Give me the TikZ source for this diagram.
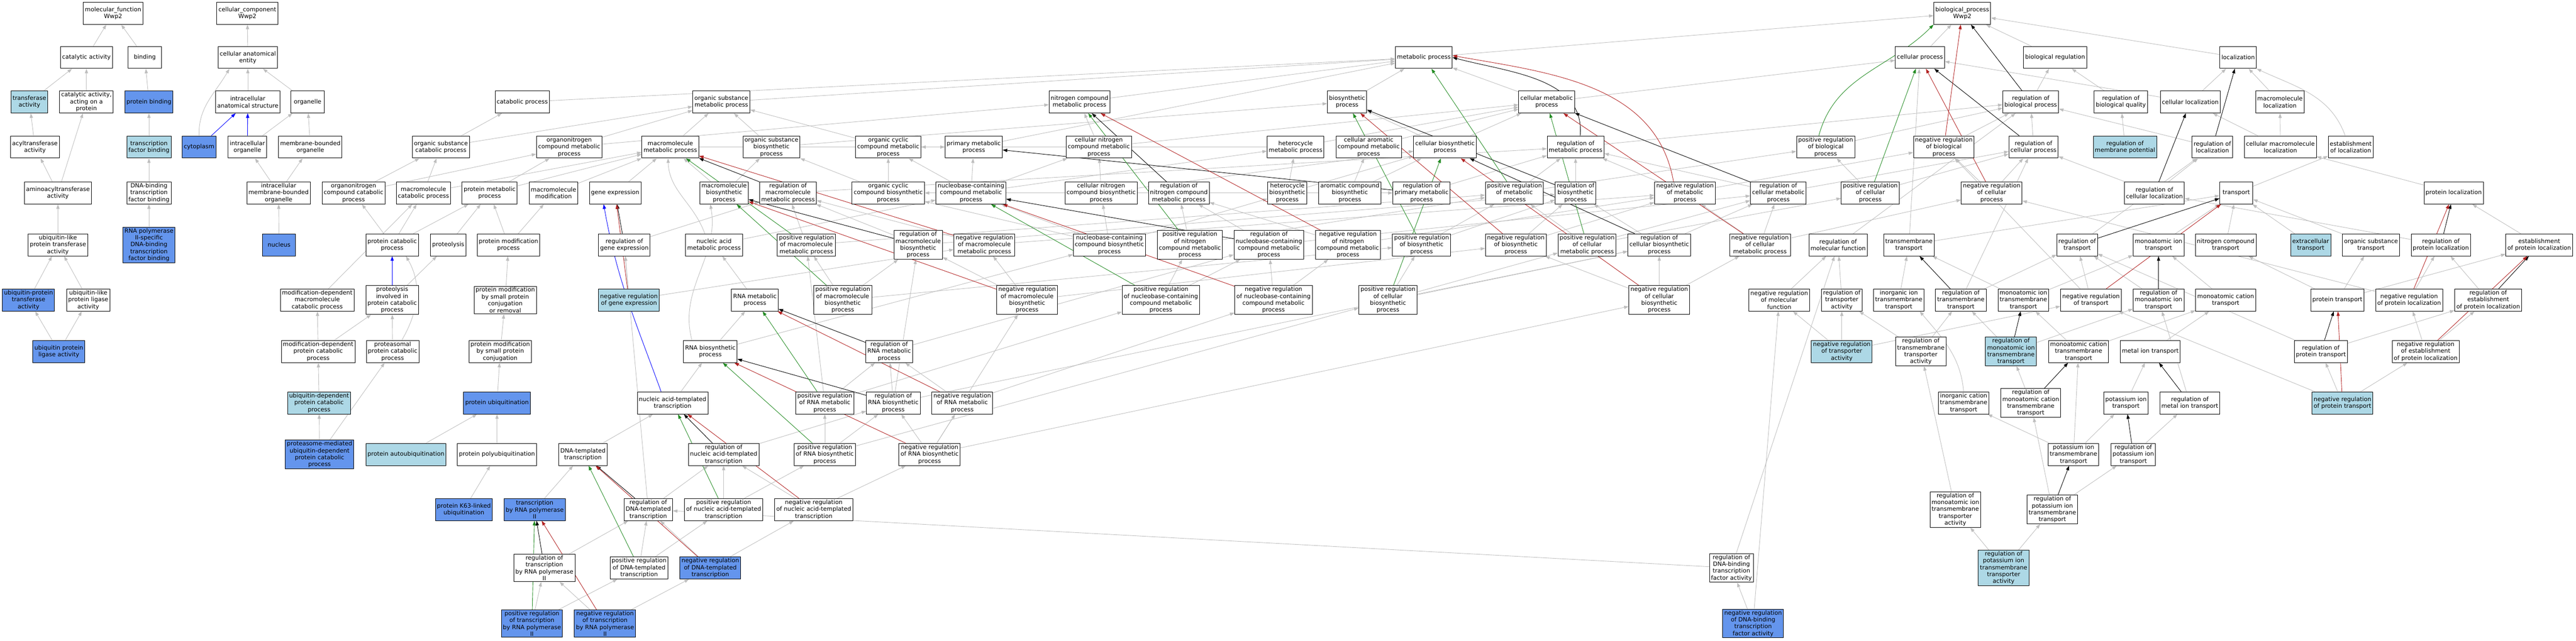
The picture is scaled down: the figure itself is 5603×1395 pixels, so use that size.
\documentclass[tikz,border=0pt]{standalone}
\usepackage{fontspec}
\setmainfont{DejaVu Sans}
\usetikzlibrary{arrows.meta,backgrounds}
\definecolor{edgegray}{HTML}{BEBEBE}
\definecolor{cfblue}{HTML}{6495ED}
\definecolor{lblue}{HTML}{ADD8E6}
\definecolor{fred}{HTML}{B22222}
\definecolor{fgreen}{HTML}{228B22}
\begin{document}
\begin{tikzpicture}[x=1pt,y=-1pt,
  box/.style={draw=black,line width=1.1pt,fill=white,align=center,
    font=\fontsize{12.8}{15}\selectfont,inner xsep=3.5pt,inner ysep=2.5pt,
    minimum width=72pt,minimum height=48pt},
  blu/.style={fill=cfblue},
  lbl/.style={fill=lblue},
  tipA/.style={-{Triangle[length=10pt,width=7pt]}},
  egray/.style={draw=edgegray,line width=1pt,tipA,color=edgegray},
  eblack/.style={draw=black,line width=1pt,tipA},
  ered/.style={draw=fred,line width=1pt,tipA,color=fred},
  egreen/.style={draw=fgreen,line width=1pt,tipA,color=fgreen},
  eblue/.style={draw=blue,line width=1pt,tipA,color=blue}]
\useasboundingbox (0,0) rectangle (5603,1395);
% ---------- molecular function ----------
\node[box] (mf) at (246,29) {molecular\_function\\Wwp2};
\node[box] (catact) at (188,125) {catalytic activity};
\node[box] (binding) at (315,125) {binding};
\node[box,lbl] (transf) at (64,222) {transferase\\activity};
\node[box] (catprot) at (188,222) {catalytic activity,\\acting on a\\protein};
\node[box,blu] (protbind) at (324,222) {protein binding};
\node[box] (acyl) at (76,320) {acyltransferase\\activity};
\node[box,lbl] (tfb) at (324,320) {transcription\\factor binding};
\node[box] (aminoacyl) at (126,420) {aminoacyltransferase\\activity};
\node[box] (dnatfb) at (324,420) {DNA-binding\\transcription\\factor binding};
\node[box] (ulpta) at (126,533) {ubiquitin-like\\protein transferase\\activity};
\node[box,blu] (rnap2tfb) at (324,533) {RNA polymerase\\II-specific\\DNA-binding\\transcription\\factor binding};
\node[box,blu] (upta) at (62,653) {ubiquitin-protein\\transferase\\activity};
\node[box] (ulpla) at (192,653) {ubiquitin-like\\protein ligase\\activity};
\node[box,blu] (upla) at (128,765) {ubiquitin protein\\ligase activity};
% ---------- cellular component ----------
\node[box] (cc) at (538,29) {cellular\_component\\Wwp2};
\node[box] (cae) at (539,125) {cellular anatomical\\entity};
\node[box] (ias) at (539,222) {intracellular\\anatomical structure};
\node[box] (organelle) at (669,222) {organelle};
\node[box,blu] (cyto) at (433,320) {cytoplasm};
\node[box] (io) at (538,320) {intracellular\\organelle};
\node[box] (mbo) at (675,320) {membrane-bounded\\organelle};
\node[box] (imbo) at (606,420) {intracellular\\membrane-bounded\\organelle};
\node[box,blu] (nucleus) at (607,533) {nucleus};
% ---------- biological process: rank 0-2 ----------
\node[box] (bp) at (4268,29) {biological\_process\\Wwp2};
\node[box] (metab) at (3097,125) {metabolic process};
\node[box] (cp) at (4176,125) {cellular process};
\node[box] (breg) at (4470,125) {biological regulation};
\node[box] (loc) at (4868,125) {localization};
\node[box] (catab) at (1136,222) {catabolic process};
\node[box] (osmp) at (1569,222) {organic substance\\metabolic process};
\node[box] (ncmp) at (2348,222) {nitrogen compound\\metabolic process};
\node[box] (biosyn) at (2930,222) {biosynthetic\\process};
\node[box] (cmp) at (3364,222) {cellular metabolic\\process};
\node[box] (rbiop) at (4417,222) {regulation of\\biological process};
\node[box] (rbq) at (4613,222) {regulation of\\biological quality};
\node[box] (cloc) at (4764,222) {cellular localization};
\node[box] (mloc) at (4959,222) {macromolecule\\localization};
% ---------- rank 3 ----------
\node[box] (oscat) at (959,320) {organic substance\\catabolic process};
\node[box] (oncmp) at (1238,320) {organonitrogen\\compound metabolic\\process};
\node[box] (mmp) at (1458,320) {macromolecule\\metabolic process};
\node[box] (osbp) at (1678,320) {organic substance\\biosynthetic\\process};
\node[box] (occmp) at (1932,320) {organic cyclic\\compound metabolic\\process};
\node[box] (primp) at (2118,320) {primary metabolic\\process};
\node[box] (cncmp) at (2390,320) {cellular nitrogen\\compound metabolic\\process};
\node[box] (hetmp) at (2818,320) {heterocycle\\metabolic process};
\node[box] (camp) at (2977,320) {cellular aromatic\\compound metabolic\\process};
\node[box] (cbp) at (3143,320) {cellular biosynthetic\\process};
\node[box] (rmp) at (3427,320) {regulation of\\metabolic process};
\node[box] (pbp) at (3971,320) {positive regulation\\of biological\\process};
\node[box] (nbp) at (4228,320) {negative regulation\\of biological\\process};
\node[box] (rcp) at (4423,320) {regulation of\\cellular process};
\node[box,lbl] (rmpot) at (4622,320) {regulation of\\membrane potential};
\node[box] (rloc) at (4812,320) {regulation of\\localization};
\node[box] (cmloc) at (4960,320) {cellular macromolecule\\localization};
\node[box] (eloc) at (5113,320) {establishment\\of localization};
% ---------- rank 4 ----------
\node[box] (oncat) at (769,420) {organonitrogen\\compound catabolic\\process};
\node[box] (mmcat) at (921,420) {macromolecule\\catabolic process};
\node[box] (pmp) at (1065,420) {protein metabolic\\process};
\node[box] (mmod) at (1204,420) {macromolecule\\modification};
\node[box] (geneexp) at (1338,420) {gene expression};
\node[box] (mbp) at (1575,420) {macromolecule\\biosynthetic\\process};
\node[box] (rmmp) at (1714,420) {regulation of\\macromolecule\\metabolic process};
\node[box] (occbp) at (1932,420) {organic cyclic\\compound biosynthetic\\process};
\node[box] (nbcmp) at (2112,420) {nucleobase-containing\\compound metabolic\\process};
\node[box] (cncbp) at (2395,420) {cellular nitrogen\\compound biosynthetic\\process};
\node[box] (rncmp) at (2564,420) {regulation of\\nitrogen compound\\metabolic process};
\node[box] (hetbp) at (2800,420) {heterocycle\\biosynthetic\\process};
\node[box] (acbp) at (2936,420) {aromatic compound\\biosynthetic\\process};
\node[box] (rprimp) at (3092,420) {regulation of\\primary metabolic\\process};
\node[box] (prmp) at (3294,420) {positive regulation\\of metabolic\\process};
\node[box] (rbp) at (3427,420) {regulation of\\biosynthetic\\process};
\node[box] (nrmp) at (3665,420) {negative regulation\\of metabolic\\process};
\node[box] (rcmp) at (3868,420) {regulation of\\cellular metabolic\\process};
\node[box] (pcp) at (4068,420) {positive regulation\\of cellular\\process};
\node[box] (ncp) at (4332,420) {negative regulation\\of cellular\\process};
\node[box] (rcl) at (4686,420) {regulation of\\cellular localization};
\node[box] (transport) at (4864,420) {transport};
\node[box] (ploc) at (5337,420) {protein localization};
% ---------- rank 5 ----------
\node[box] (protcat) at (853,533) {protein catabolic\\process};
\node[box] (proteolysis) at (975,533) {proteolysis};
\node[box] (pmodp) at (1106,533) {protein modification\\process};
\node[box] (rge) at (1358,533) {regulation of\\gene expression};
\node[box] (nampr) at (1553,533) {nucleic acid\\metabolic process};
\node[box] (prmmp) at (1754,533) {positive regulation\\of macromolecule\\metabolic process};
\node[box] (rmbp) at (1997,533) {regulation of\\macromolecule\\biosynthetic\\process};
\node[box] (nrmmp) at (2141,533) {negative regulation\\of macromolecule\\metabolic process};
\node[box] (nbcbp) at (2413,533) {nucleobase-containing\\compound biosynthetic\\process};
\node[box] (prncmp) at (2588,533) {positive regulation\\of nitrogen\\compound metabolic\\process};
\node[box] (rnbcmp) at (2760,533) {regulation of\\nucleobase-containing\\compound metabolic\\process};
\node[box] (nrncmp) at (2932,533) {negative regulation\\of nitrogen\\compound metabolic\\process};
\node[box] (prbp) at (3092,533) {positive regulation\\of biosynthetic\\process};
\node[box] (nrbp) at (3297,533) {negative regulation\\of biosynthetic\\process};
\node[box] (prcmp) at (3452,533) {positive regulation\\of cellular\\metabolic process};
\node[box] (rcbp) at (3609,533) {regulation of\\cellular biosynthetic\\process};
\node[box] (nrcmp) at (3828,533) {negative regulation\\of cellular\\metabolic process};
\node[box] (rmf) at (3998,533) {regulation of\\molecular function};
\node[box] (tmt) at (4152,533) {transmembrane\\transport};
\node[box] (rtr) at (4518,533) {regulation of\\transport};
\node[box] (mit) at (4695,533) {monoatomic ion\\transport};
\node[box] (nct) at (4841,533) {nitrogen compound\\transport};
\node[box,lbl] (ect) at (5026,533) {extracellular\\transport};
\node[box] (ost) at (5157,533) {organic substance\\transport};
\node[box] (rploc) at (5309,533) {regulation of\\protein localization};
\node[box] (eploc) at (5523,533) {establishment\\of protein localization};
% ---------- rank 6 ----------
\node[box] (mdmcp) at (690,653) {modification-dependent\\macromolecule\\catabolic process};
\node[box] (proteolysisinv) at (853,653) {proteolysis\\involved in\\protein catabolic\\process};
\node[box] (pmsp) at (1099,653) {protein modification\\by small protein\\conjugation\\or removal};
\node[box,lbl] (nrge) at (1368,653) {negative regulation\\of gene expression};
\node[box] (rnamp) at (1642,653) {RNA metabolic\\process};
\node[box] (prmbp) at (1833,653) {positive regulation\\of macromolecule\\biosynthetic\\process};
\node[box] (nrmbp) at (2234,653) {negative regulation\\of macromolecule\\biosynthetic\\process};
\node[box] (pnbcmp) at (2525,653) {positive regulation\\of nucleobase-containing\\compound metabolic\\process};
\node[box] (nnbcmp) at (2770,653) {negative regulation\\of nucleobase-containing\\compound metabolic\\process};
\node[box] (prcbp) at (3019,653) {positive regulation\\of cellular\\biosynthetic\\process};
\node[box] (nrcbp) at (3609,653) {negative regulation\\of cellular\\biosynthetic\\process};
\node[box] (nrmf) at (3870,653) {negative regulation\\of molecular\\function};
\node[box] (rta) at (4006,653) {regulation of\\transporter\\activity};
\node[box] (iitt) at (4130,653) {inorganic ion\\transmembrane\\transport};
\node[box] (rtmt) at (4265,653) {regulation of\\transmembrane\\transport};
\node[box] (mitt) at (4401,653) {monoatomic ion\\transmembrane\\transport};
\node[box] (ntr) at (4548,653) {negative regulation\\of transport};
\node[box] (rmiont) at (4695,653) {regulation of\\monoatomic ion\\transport};
\node[box] (mct) at (4841,653) {monoatomic cation\\transport};
\node[box] (pt) at (5084,653) {protein transport};
\node[box] (nploc) at (5240,653) {negative regulation\\of protein localization};
\node[box] (reploc) at (5412,653) {regulation of\\establishment\\of protein localization};
% ---------- rank 7 ----------
\node[box] (mdpcp) at (692,765) {modification-dependent\\protein catabolic\\process};
\node[box] (ppcp) at (854,765) {proteasomal\\protein catabolic\\process};
\node[box] (pmspc) at (1088,765) {protein modification\\by small protein\\conjugation};
\node[box] (rnabp) at (1545,765) {RNA biosynthetic\\process};
\node[box] (rrnamp) at (1934,765) {regulation of\\RNA metabolic\\process};
\node[box,lbl] (nrta) at (4006,765) {negative regulation\\of transporter\\activity};
\node[box] (rtmta) at (4178,765) {regulation of\\transmembrane\\transporter\\activity};
\node[box,lbl] (rmitt) at (4374,765) {regulation of\\monoatomic ion\\transmembrane\\transport};
\node[box] (mctt) at (4521,765) {monoatomic cation\\transmembrane\\transport};
\node[box] (metalion) at (4677,765) {metal ion transport};
\node[box] (rpt) at (5048,765) {regulation of\\protein transport};
\node[box] (neploc) at (5276,765) {negative regulation\\of establishment\\of protein localization};
% ---------- rank 8 ----------
\node[box,lbl] (udpcp) at (694,877) {ubiquitin-dependent\\protein catabolic\\process};
\node[box,blu] (protubiq) at (1081,877) {protein ubiquitination};
\node[box] (natt) at (1463,877) {nucleic acid-templated\\transcription};
\node[box] (prnamp) at (1794,877) {positive regulation\\of RNA metabolic\\process};
\node[box] (rrnabp) at (1943,877) {regulation of\\RNA biosynthetic\\process};
\node[box] (nrnamp) at (2093,877) {negative regulation\\of RNA metabolic\\process};
\node[box] (ictt) at (4271,877) {inorganic cation\\transmembrane\\transport};
\node[box] (rmctt) at (4417,877) {regulation of\\monoatomic cation\\transmembrane\\transport};
\node[box] (kit) at (4624,877) {potassium ion\\transport};
\node[box] (rmit) at (4763,877) {regulation of\\metal ion transport};
\node[box,lbl] (npt) at (5095,877) {negative regulation\\of protein transport};
% ---------- rank 9 ----------
\node[box,blu] (pmudpcp) at (695,989) {proteasome-mediated\\ubiquitin-dependent\\protein catabolic\\process};
\node[box,lbl] (protautoub) at (883,989) {protein autoubiquitination};
\node[box] (protpolyub) at (1081,989) {protein polyubiquitination};
\node[box] (dtt) at (1268,989) {DNA-templated\\transcription};
\node[box] (rnatt) at (1574,989) {regulation of\\nucleic acid-templated\\transcription};
\node[box] (prnabp) at (1794,989) {positive regulation\\of RNA biosynthetic\\process};
\node[box] (nrnabp) at (2022,989) {negative regulation\\of RNA biosynthetic\\process};
\node[box] (kitt) at (4510,989) {potassium ion\\transmembrane\\transport};
\node[box] (rkit) at (4640,989) {regulation of\\potassium ion\\transport};
% ---------- rank 10 ----------
\node[box,blu] (k63) at (1009,1109) {protein K63-linked\\ubiquitination};
\node[box,blu] (tbrnap2) at (1163,1109) {transcription\\by RNA polymerase\\II};
\node[box] (rdtt) at (1410,1109) {regulation of\\DNA-templated\\transcription};
\node[box] (pnatt) at (1574,1109) {positive regulation\\of nucleic acid-templated\\transcription};
\node[box] (nnatt) at (1770,1109) {negative regulation\\of nucleic acid-templated\\transcription};
\node[box] (rmitta) at (4253,1109) {regulation of\\monoatomic ion\\transmembrane\\transporter\\activity};
\node[box] (rkitt) at (4464,1109) {regulation of\\potassium ion\\transmembrane\\transport};
% ---------- rank 11 ----------
\node[box] (rtbrnap2) at (1184,1236) {regulation of\\transcription\\by RNA polymerase\\II};
\node[box] (pdtt) at (1390,1236) {positive regulation\\of DNA-templated\\transcription};
\node[box,blu] (ndtt) at (1545,1236) {negative regulation\\of DNA-templated\\transcription};
\node[box] (rdbtfa) at (3766,1236) {regulation of\\DNA-binding\\transcription\\factor activity};
\node[box,lbl] (rkitta) at (4358,1236) {regulation of\\potassium ion\\transmembrane\\transporter\\activity};
% ---------- rank 12 ----------
\node[box,blu] (ptbrnap2) at (1157,1357) {positive regulation\\of transcription\\by RNA polymerase\\II};
\node[box,blu] (ntbrnap2) at (1316,1357) {negative regulation\\of transcription\\by RNA polymerase\\II};
\node[box,blu] (ndbtfa) at (3813,1357) {negative regulation\\of DNA-binding\\transcription\\factor activity};
% ================= edges =================
\begin{pgfonlayer}{background}
\foreach \a/\b in {catact/mf, binding/mf, transf/catact, catprot/catact, protbind/binding, acyl/transf, tfb/protbind, aminoacyl/acyl, aminoacyl/catprot, dnatfb/tfb, ulpta/aminoacyl, rnap2tfb/dnatfb, upta/ulpta, ulpla/ulpta, upla/upta, upla/ulpla,
 cae/cc, ias/cae, organelle/cae, io/organelle, mbo/organelle, imbo/io, imbo/mbo, nucleus/imbo,
 catab/metab, osmp/metab, ncmp/metab, primp/metab, biosyn/metab, cmp/metab, cmp/cp, metab/bp, cp/bp, breg/bp, loc/bp,
 oscat/catab, oscat/osmp, oncmp/osmp, oncmp/ncmp, mmp/osmp, mmp/primp, osbp/osmp, osbp/biosyn, occmp/osmp, cncmp/ncmp, cncmp/cmp, hetmp/occmp, hetmp/cmp, camp/cmp, cbp/biosyn, cbp/cmp,
 rbiop/breg, rbq/breg, cloc/loc, cloc/cp, mloc/loc,
 oncat/oscat, oncat/oncmp, mmcat/oscat, mmcat/mmp, pmp/oncmp, pmp/mmp, mmod/mmp, geneexp/mmp, mbp/mmp, mbp/osbp, occbp/occmp, occbp/osbp, nbcmp/occmp, nbcmp/primp, nbcmp/cncmp, nbcmp/hetmp, cncbp/cncmp, cncbp/cbp, hetbp/hetmp, hetbp/occbp, hetbp/cbp, acbp/camp, acbp/cbp,
 nbcbp/nbcmp, nbcbp/cncbp, nbcbp/hetbp, nbcbp/occbp,
 protcat/oncat, protcat/mmcat, protcat/pmp, proteolysis/pmp, proteolysisinv/proteolysis, pmodp/pmp, pmodp/mmod, nampr/nbcmp, rnamp/nampr, rnabp/rnamp, rnabp/nbcbp, natt/rnabp, dtt/natt, tbrnap2/dtt,
 mdmcp/mmcat, mdpcp/mdmcp, mdpcp/proteolysisinv, ppcp/proteolysisinv, udpcp/mdpcp, pmudpcp/udpcp, pmudpcp/ppcp, pmsp/pmodp, pmspc/pmsp, protubiq/pmspc, protautoub/protubiq, protpolyub/protubiq, k63/protpolyub,
 rmp/rbiop, rcp/rbiop, pbp/rbiop, nbp/rbiop, rmmp/rmp, rprimp/rmp, rbp/rmp, prmp/rmp, prmp/pbp, nrmp/rmp, nrmp/nbp, rcmp/rmp, rcmp/rcp, pcp/rcp, pcp/pbp, ncp/rcp, ncp/nbp, rncmp/rprimp, rge/rmmp, rmbp/rmmp, rmbp/rbp, prmmp/rmmp, prmmp/prmp, nrmmp/rmmp, nrmmp/nrmp, rnbcmp/rncmp, rnbcmp/rcmp, prncmp/rncmp, prncmp/prmp, nrncmp/rncmp, nrncmp/nrmp, prbp/rbp, prbp/prmp, nrbp/rbp, nrbp/nrmp, prcmp/rcmp, prcmp/prmp, prcmp/pcp, rcbp/rbp, rcbp/rcmp, nrcmp/rcmp, nrcmp/ncp, nrcmp/nrmp, nrge/rge, nrge/nrmmp, rrnamp/rnbcmp,
 prmbp/prmmp, prmbp/rmbp, prmbp/prbp, nrmbp/rmbp, nrmbp/nrmmp, nrmbp/nrbp, pnbcmp/prncmp, pnbcmp/rnbcmp, nnbcmp/rnbcmp, nnbcmp/nrncmp, prcbp/prbp, prcbp/rcbp, prcbp/prcmp, nrcbp/rcbp, nrcbp/nrbp, nrcbp/nrcmp, prnamp/prmmp, prnamp/rrnamp, prnamp/pnbcmp, nrnamp/rrnamp, nrnamp/nnbcmp, rrnabp/rrnamp, rrnabp/rmbp, rrnabp/rcbp, prnabp/prnamp, prnabp/rrnabp, prnabp/prcbp, nrnabp/rrnabp, nrnabp/nrnamp, nrnabp/nrcbp, nrnabp/nrmbp, rnatt/rrnabp, pnatt/rnatt, pnatt/prnabp, nnatt/rnatt, nnatt/nrnabp, rdtt/rnatt, rdtt/rge, pdtt/rdtt, pdtt/pnatt, ndtt/rdtt, ndtt/nnatt, rtbrnap2/rdtt, ptbrnap2/rtbrnap2, ptbrnap2/pdtt, ntbrnap2/rtbrnap2, ntbrnap2/ndtt, rdbtfa/rdtt, rdbtfa/rmf, ndbtfa/rdbtfa, ndbtfa/nrmf,
 transport/eloc, cmloc/cloc, cmloc/mloc, ploc/cmloc, rloc/rbiop, rcl/rloc, rcl/rcp, tmt/transport, tmt/cp, rtr/rloc, mit/transport, nct/transport, ect/transport, ost/transport, rploc/rcl, eploc/ploc, rmf/rbiop, nrmf/rmf, rta/rmf, iitt/tmt, rtmt/rtr, rtmt/rcp, mitt/tmt, mitt/mit, ntr/rtr, ntr/nbp, rmiont/rtr, mct/mit, pt/nct, pt/ost, pt/eploc, nploc/rploc, nploc/ncp, reploc/rploc, nrta/rta, nrta/nrmf, nrta/ntr, rtmta/rta, rtmta/rtmt, rmitt/rtmt, rmitt/rmiont, mctt/mitt, mctt/mct, metalion/mct, rpt/rtr, rpt/reploc, neploc/reploc, neploc/nploc, rmctt/rmitt, kit/metalion, rmit/rmiont, npt/rpt, npt/neploc, npt/ntr, kitt/kit, kitt/mctt, kitt/ictt, rkit/rmit, rmitta/rtmta, rkitt/rmctt, rkitt/rkit, rkitta/rmitta, rkitta/rkitt, rmpot/rbq}
  \draw[egray] (\a) -- (\b);
% curved grey connectors
\draw[egray] (cyto.north) to[out=92,in=-120] ([xshift=25pt]cae.south west);
\draw[egray] ([xshift=-20pt]nampr.north) to[out=110,in=-88] ([xshift=-5pt]mmp.south);
\draw[egray] ([xshift=-40pt]rnabp.north) to[out=105,in=-80] ([xshift=-30pt]mbp.south);
\draw[egray] ([xshift=20pt]ppcp.north) to[out=60,in=-60] ([xshift=30pt]protcat.south);
\draw[egray] ([xshift=-12pt]eloc.north) to[out=110,in=-25] (loc.south east);
\draw[egray] (ictt.north) to[out=95,in=-50] ([xshift=-10pt]iitt.south east);
\foreach \a/\b in {rmmp/mmp, rge/geneexp, rmbp/mbp, rprimp/primp, rncmp/ncmp, rnbcmp/nbcmp, rbp/biosyn, rcbp/cbp, rcmp/cmp, rcp/cp, rbiop/bp, rrnamp/rnamp, rrnabp/rnabp, rnatt/natt, rdtt/dtt, rtbrnap2/tbrnap2, rloc/loc, rcl/cloc, rtr/transport, rtmt/tmt, rmitt/mitt, rmctt/mctt, rkitt/kitt, rkit/kit, rmit/metalion, rploc/ploc, reploc/eploc, rpt/pt, rmiont/mit}
  \draw[eblack] (\a) -- (\b);
\draw[eblack] ([xshift=10pt]rmp.north) to[out=85,in=-15] (metab.east);
\foreach \a/\b in {prmmp/mmp, prmbp/mbp, prncmp/ncmp, pnbcmp/nbcmp, prmp/metab, prbp/biosyn, prcbp/cbp, prcmp/cmp, pcp/cp, prnamp/rnamp, prnabp/rnabp, pnatt/natt, pdtt/dtt, ptbrnap2/tbrnap2}
  \draw[egreen] (\a) -- (\b);
\draw[egreen] ([xshift=-15pt]pbp.north) to[out=75,in=-135] (bp.south west);
\foreach \a/\b in {nrge/geneexp, nrmmp/mmp, nrmbp/mbp, nrncmp/ncmp, nnbcmp/nbcmp, nrbp/biosyn, nrcbp/cbp, nrcmp/cmp, ncp/cp, nbp/bp, nrnamp/rnamp, nrnabp/rnabp, nnatt/natt, ndtt/dtt, ntbrnap2/tbrnap2, ntr/transport, nploc/ploc, neploc/eploc, npt/pt}
  \draw[ered] (\a) -- (\b);
\draw[ered] ([xshift=-25pt]nrmp.north) to[out=100,in=-10] ([yshift=4pt]metab.east);
\foreach \a/\b in {cyto/ias, io/ias, proteolysisinv/protcat}
  \draw[eblue] (\a) -- (\b);
\draw[eblue] ([xshift=-25pt]natt.north) to[out=110,in=-80] ([xshift=-25pt]geneexp.south);
\end{pgfonlayer}
\end{tikzpicture}
\end{document}
